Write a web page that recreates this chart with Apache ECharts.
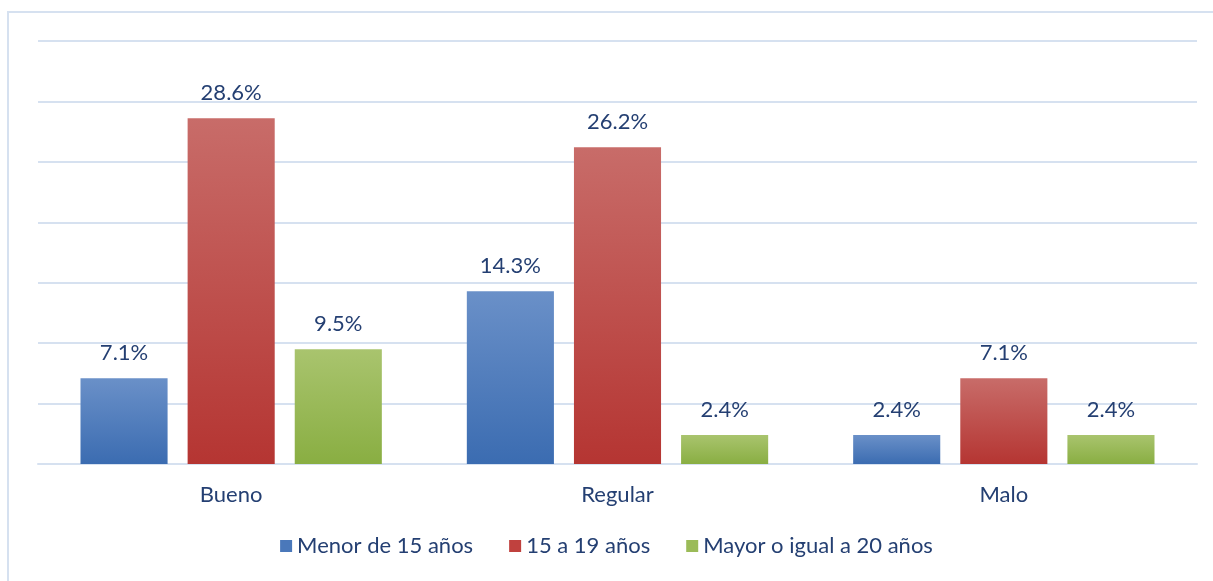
<!DOCTYPE html>
<html lang="es">
<head>
    <meta charset="UTF-8">
    <title>Estado por edad</title>
    <script src="https://cdn.jsdelivr.net/npm/echarts@6/dist/echarts.min.js"></script>
    <style>
        body { margin: 0; background: #fff; }
        #chart { width: 1213px; height: 581px; }
    </style>
</head>
<body>
    <div id="chart"></div>
    <script>
        const categories = ['Bueno', 'Regular', 'Malo'];
        const seriesNames = ['Menor de 15 años', '15 a 19 años', 'Mayor o igual a 20 años'];
        const menor15 = [7.1, 14.3, 2.4];
        const de15a19 = [28.6, 26.2, 7.1];
        const mayor20 = [9.5, 2.4, 2.4];

        const textColor = '#243F72';
        const fontFamily = 'Lato, "Open Sans", sans-serif';

        function grad(top, bottom) {
            return new echarts.graphic.LinearGradient(0, 0, 0, 1, [
                { offset: 0, color: top },
                { offset: 1, color: bottom }
            ]);
        }

        const colors = [
            grad('#6A90C8', '#3B6CB1'),
            grad('#C86C69', '#B53532'),
            grad('#A9C46E', '#89AE42')
        ];
        const legendColors = ['#4A78BA', '#C0413E', '#9BBB58'];

        function makeSeries(name, data, i) {
            return {
                name: name,
                type: 'bar',
                data: data,
                barGap: '23%',
                barCategoryGap: '22%',
                itemStyle: { color: colors[i] },
                label: {
                    show: true,
                    position: 'top',
                    distance: 14,
                    formatter: p => p.value.toFixed(1) + '%',
                    color: textColor,
                    fontSize: 22,
                    fontFamily: fontFamily
                }
            };
        }

        const chart = echarts.init(document.getElementById('chart'));
        chart.setOption({
            animation: false,
            color: legendColors,
            graphic: [{
                type: 'rect',
                shape: { x: 8, y: 12, width: 1400, height: 800 },
                style: { fill: 'none', stroke: '#D6E1F0', lineWidth: 2 },
                silent: true,
                z: -1
            }],
            grid: { left: 38, right: 16, top: 41, bottom: 117 },
            legend: {
                bottom: 19,
                left: 'center',
                itemWidth: 12,
                itemHeight: 12,
                itemGap: 36,
                icon: 'rect',
                textStyle: { color: textColor, fontSize: 22, fontFamily: fontFamily },
                data: seriesNames.map((n, i) => ({ name: n, itemStyle: { color: legendColors[i] } }))
            },
            xAxis: {
                type: 'category',
                data: categories,
                axisLine: { show: true, lineStyle: { color: '#D6E1F0', width: 2 } },
                axisTick: { show: false },
                axisLabel: { color: textColor, fontSize: 22, fontFamily: fontFamily, margin: 20 }
            },
            yAxis: {
                type: 'value',
                min: 0,
                max: 35,
                interval: 5,
                axisLabel: { show: false },
                axisLine: { show: false },
                axisTick: { show: false },
                splitLine: { lineStyle: { color: '#D6E1F0', width: 2 } }
            },
            series: [
                makeSeries(seriesNames[0], menor15, 0),
                makeSeries(seriesNames[1], de15a19, 1),
                makeSeries(seriesNames[2], mayor20, 2)
            ]
        });
    </script>
</body>
</html>
